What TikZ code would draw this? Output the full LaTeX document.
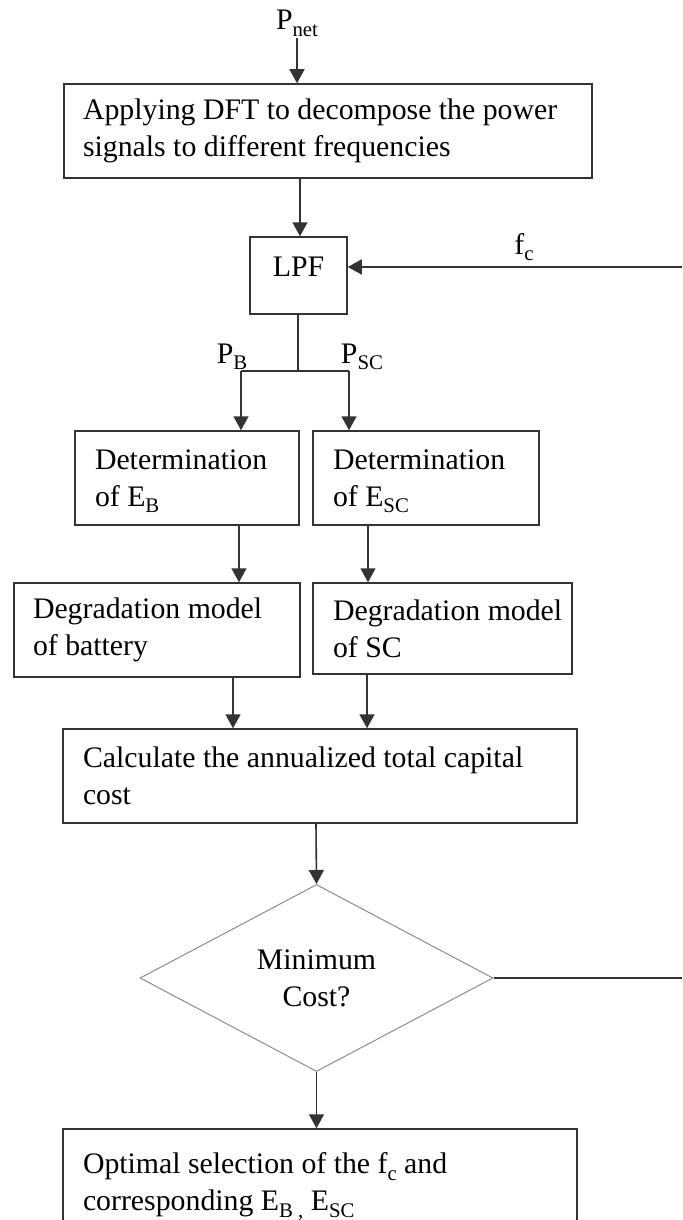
\documentclass[tikz,border=0pt]{standalone}
\usepackage{fontspec}
\setmainfont{Liberation Serif}
\usetikzlibrary{arrows.meta,shapes.geometric}
% lowered subscript text that leaves the line height unchanged
\newcommand\dn[1]{\raisebox{-0.22em}[0pt][0pt]{\fontsize{10.4pt}{10.4pt}\selectfont #1}}
\begin{document}
\begin{tikzpicture}[x=0.5pt,y=-0.5pt,
  txt/.style={font=\fontsize{14.9pt}{18.5pt}\selectfont},
  line/.style={draw=black!80, line width=0.8pt},
  flow/.style={line, -{Triangle[length=7pt,width=7.5pt]}},
  stepbox/.style={txt, draw=black!80, line width=0.75pt, rectangle,
    align=flush left, inner ysep=0pt},
  decision/.style={txt, diamond, draw=black!45, line width=0.5pt,
    inner sep=0pt, align=center},
  tag/.style={txt, inner sep=0pt, text height=10pt, text depth=4pt}
  ]
\useasboundingbox (0,0) rectangle (682,1220);
\clip (0,0) rectangle (682,1220);

% process boxes
\node[stepbox, inner xsep=9.5pt, text width=245pt, minimum height=47pt] (dft) at (328,131)
  {Applying DFT to decompose the power\\signals to different frequencies};
\node[stepbox, align=center, inner xsep=0pt, minimum width=48.5pt, minimum height=38.5pt,
  text depth=8.5pt] (lpf) at (298.5,275.5) {LPF};
\node[stepbox, inner xsep=10pt, text width=92pt, minimum height=47pt] (detb) at (187,478)
  {Determination\\of E\dn{B}};
\node[stepbox, inner xsep=10pt, text width=93pt, minimum height=47pt] (detsc) at (426,478)
  {Determination\\of E\dn{SC}};
\node[stepbox, inner xsep=9.5pt, text width=124pt, minimum height=47pt] (degb) at (157,630)
  {\mbox{Degradation model}\\of battery};
\node[stepbox, inner xsep=10pt, text width=109.5pt, minimum height=45.5pt] (degsc) at (442.5,628.5)
  {\mbox{Degradation model}\\of SC};
\node[stepbox, inner xsep=10pt, text width=237pt, minimum height=47pt] (calc) at (320,776)
  {Calculate the annualized total capital\\cost};
\node[decision, minimum width=176.5pt, minimum height=93.5pt] (cost) at (316.5,978)
  {Minimum\\Cost?};
\node[stepbox, inner xsep=10pt, text width=237pt, minimum height=56pt] (opt) at (320,1185)
  {Optimal selection of the f\dn{c} and\\corresponding E\dn{B ,} E\dn{SC}};

% signal labels
\node[tag] (pnet) at (297,24) {P\dn{net}};
\node[tag] (fc) at (524,248) {f\dn{c}};
\node[tag] (pb) at (232,357) {P\dn{B}};
\node[tag] (psc) at (362,357) {P\dn{SC}};

% helper points
\coordinate (fcin) at (682,267);
\coordinate (split) at (298,371);
\coordinate (splitL) at (241,371);
\coordinate (splitR) at (349,371);
\coordinate (xb1) at (239,0);
\coordinate (xs1) at (368,0);
\coordinate (xb2) at (233,0);
\coordinate (xs2) at (367,0);
\coordinate (xc) at (316,0);
\coordinate (xd) at (300,0);
\coordinate (loopout) at (682,978);

% connectors
\draw[flow] (pnet.south) -- (pnet.south |- dft.north);
\draw[flow] (xd |- dft.south) -- (xd |- lpf.north);
\draw[flow] (fcin) -- (fcin -| lpf.east);
\draw[line] (split |- lpf.south) -- (split);
\draw[line] (splitL) -- (splitR);
\draw[flow] (splitL) -- (splitL |- detb.north);
\draw[flow] (splitR) -- (splitR |- detsc.north);
\draw[flow] (xb1 |- detb.south) -- (xb1 |- degb.north);
\draw[flow] (xs1 |- detsc.south) -- (xs1 |- degsc.north);
\draw[flow] (xb2 |- degb.south) -- (xb2 |- calc.north);
\draw[flow] (xs2 |- degsc.south) -- (xs2 |- calc.north);
\draw[flow] (xc |- calc.south) -- (cost.north);
\draw[line] (cost.east) -- (loopout);
\draw[flow] (cost.south) -- (cost.south |- opt.north);
\end{tikzpicture}
\end{document}
